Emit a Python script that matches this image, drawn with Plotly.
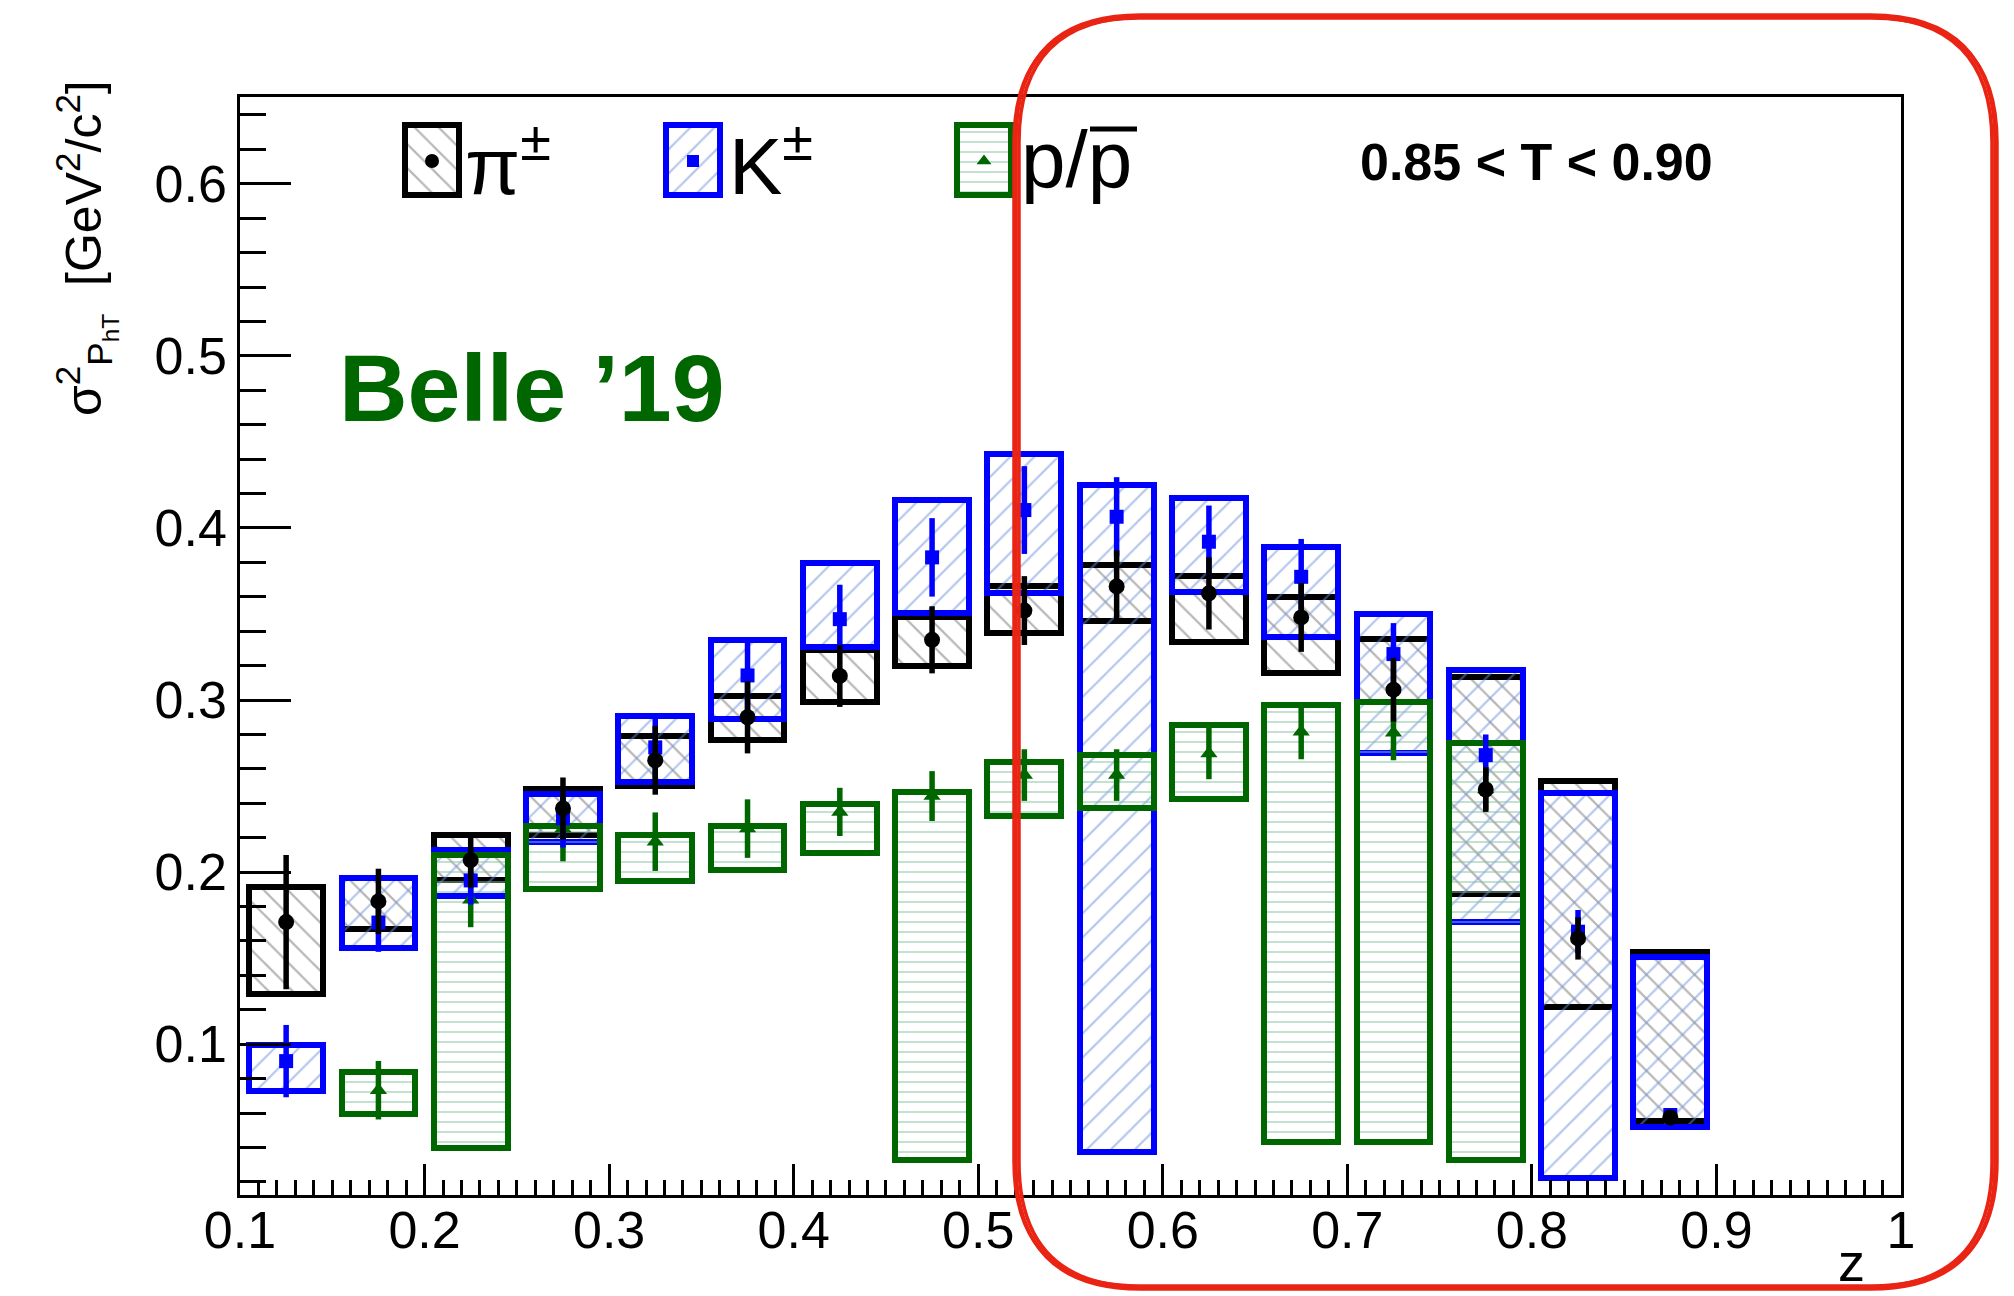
import plotly.graph_objects as go

# ---------------------------------------------------------------------------
# sigma^2 of P_hT versus z, Belle 2019, thrust bin 0.85 < T < 0.90
# ---------------------------------------------------------------------------
z_bins = [0.125, 0.175, 0.225, 0.275, 0.325, 0.375, 0.425, 0.475,
          0.525, 0.575, 0.625, 0.675, 0.725, 0.775, 0.825, 0.875]

# pions
pi_val = [0.171, 0.183, 0.207, 0.237, 0.265, 0.290, 0.314, 0.335,
          0.352, 0.366, 0.362, 0.348, 0.306, 0.248, 0.1615, 0.0575]
pi_stat = [0.039, 0.019, 0.016, 0.018, 0.020, 0.021, 0.018, 0.0195,
           0.020, 0.021, 0.021, 0.020, 0.0185, 0.013, 0.0123, 0.004]
pi_sys_lo = [0.129, 0.167, 0.1952, 0.2213, 0.250, 0.2769, 0.299, 0.320,
             0.3391, 0.3459, 0.3339, 0.3159, 0.2987, 0.1873, 0.1218, 0.0554]
pi_sys_hi = [0.1916, 0.1968, 0.2213, 0.2484, 0.2791, 0.3026, 0.329, 0.3484,
             0.3662, 0.3784, 0.372, 0.360, 0.3354, 0.3135, 0.253, 0.1537]

# kaons
k_val = [0.0902, 0.1707, 0.1952, 0.2313, 0.2725, 0.3143, 0.347, 0.3829,
         0.4104, 0.4065, 0.392, 0.3716, 0.3267, 0.268, 0.1654, 0.0589]
k_stat = [0.021, 0.017, 0.014, 0.017, 0.019, 0.022, 0.020, 0.0228,
          0.0255, 0.023, 0.021, 0.022, 0.018, 0.012, 0.0126, 0.0033]
k_sys_lo = [0.0727, 0.156, 0.1861, 0.2177, 0.2525, 0.2892, 0.331, 0.3504,
            0.3624, 0.0375, 0.3626, 0.3368, 0.269, 0.1712, 0.022, 0.0517]
k_sys_hi = [0.0994, 0.1968, 0.2127, 0.2454, 0.2906, 0.335, 0.3798, 0.4162,
            0.4429, 0.4249, 0.4176, 0.3887, 0.350, 0.3174, 0.2458, 0.1509]

# protons / antiprotons (no measurement in the first and last two bins)
p_val = [None, 0.0733, 0.184, 0.2253, 0.2177, 0.2253, 0.235, 0.2442,
         0.2564, 0.2564, 0.269, 0.2816, 0.281, 0.248, None, None]
p_stat = [None, 0.017, 0.016, 0.019, 0.017, 0.017, 0.014, 0.0145,
          0.015, 0.015, 0.015, 0.016, 0.016, 0.012, None, None]
p_sys_lo = [None, 0.0596, 0.040, 0.1902, 0.1946, 0.2012, 0.2113, 0.033,
            0.2328, 0.2371, 0.2425, 0.0433, 0.0433, 0.0327, None, None]
p_sys_hi = [None, 0.0841, 0.2102, 0.2267, 0.2213, 0.2267, 0.2394, 0.2464,
            0.2641, 0.268, 0.2855, 0.2971, 0.2987, 0.2752, None, None]

x_tick_vals = [0.1, 0.2, 0.3, 0.4, 0.5, 0.6, 0.7, 0.8, 0.9, 1.0]
x_tick_text = ["0.1", "0.2", "0.3", "0.4", "0.5", "0.6", "0.7", "0.8", "0.9", "1"]
y_tick_vals = [0.1, 0.2, 0.3, 0.4, 0.5, 0.6]
y_tick_text = ["0.1", "0.2", "0.3", "0.4", "0.5", "0.6"]

# ---------------------------------------------------------------------------
W, H = 2014, 1296
ML, MR, MT, MB = 240, 113, 97, 101
FONT = "Liberation Sans, Arial, Helvetica, sans-serif"

BLACK = "#000000"
BLUE = "#0000ff"
GREEN = "#006600"
RED = "#ea2414"

species = [
    dict(name="pi", val=pi_val, stat=pi_stat, lo=pi_sys_lo, hi=pi_sys_hi,
         line=BLACK, hatch="#6e6e6e", shape="\\", size=17, solid=0.13,
         symbol="circle", msize=16),
    dict(name="K", val=k_val, stat=k_stat, lo=k_sys_lo, hi=k_sys_hi,
         line=BLUE, hatch="#6c8fdc", shape="/", size=17, solid=0.13,
         symbol="square", msize=14),
    dict(name="p", val=p_val, stat=p_stat, lo=p_sys_lo, hi=p_sys_hi,
         line=GREEN, hatch="#86c49f", shape="-", size=10, solid=0.2,
         symbol="triangle-up", msize=15),
]


def px(x):
    return (x - ML) / (W - ML - MR)


def py(y):
    return (H - MB - y) / (H - MT - MB)


def box_marker(s):
    return dict(color="rgba(0,0,0,0)",
                line=dict(color=s["line"], width=6),
                pattern=dict(shape=s["shape"], fgcolor=s["hatch"],
                             bgcolor="rgba(0,0,0,0)", size=s["size"],
                             solidity=s["solid"], fillmode="overlay"))


fig = go.Figure()

# systematic boxes
for s in species:
    heights = [None if lo is None else hi - lo for lo, hi in zip(s["lo"], s["hi"])]
    fig.add_trace(go.Bar(x=z_bins, y=heights, base=s["lo"], width=0.04,
                         marker=box_marker(s), showlegend=False,
                         hoverinfo="skip"))

# points with statistical errors
for s in reversed(species):
    fig.add_trace(go.Scatter(
        x=z_bins, y=s["val"], mode="markers", showlegend=False,
        marker=dict(symbol=s["symbol"], size=s["msize"], color=s["line"],
                    line=dict(width=0)),
        error_y=dict(type="data", array=s["stat"], thickness=5.5, width=0,
                     color=s["line"])))

# legend drawn in figure pixel coordinates on an overlaid pair of axes
leg_cx = [432, 693, 984]
leg_labels = ["π<sup>±</sup>", "K<sup>±</sup>", "p/p"]
leg_text_x = [463, 727, 1019]
for s, cx in zip(species, leg_cx):
    fig.add_trace(go.Bar(x=[cx], y=[70], base=[125], width=54,
                         marker=box_marker(s), showlegend=False,
                         hoverinfo="skip", xaxis="x2", yaxis="y2"))
for s, cx in zip(species, leg_cx):
    fig.add_trace(go.Scatter(x=[cx], y=[161], mode="markers", showlegend=False,
                             marker=dict(symbol=s["symbol"], size=s["msize"] - 2,
                                         color=s["line"]),
                             xaxis="x2", yaxis="y2", hoverinfo="skip"))

annotations = []
for lab, tx in zip(leg_labels, leg_text_x):
    annotations.append(dict(x=px(tx), y=py(160), xref="paper", yref="paper",
                            text=lab, showarrow=False, xanchor="left",
                            yanchor="middle",
                            font=dict(family=FONT, size=80, color="black")))

annotations += [
    dict(x=px(1536), y=py(162), xref="paper", yref="paper",
         text="<b>0.85 &lt; T &lt; 0.90</b>", showarrow=False,
         xanchor="center", yanchor="middle",
         font=dict(family=FONT, size=52, color="black")),
    dict(x=px(337), y=py(388), xref="paper", yref="paper",
         text="<b>Belle ’19</b>", showarrow=False,
         xanchor="left", yanchor="middle",
         font=dict(family=FONT, size=95, color=GREEN)),
    dict(x=px(1851), y=py(1262), xref="paper", yref="paper",
         text="z", showarrow=False, xanchor="center", yanchor="middle",
         font=dict(family=FONT, size=54, color="black")),
    dict(x=px(86), y=py(248), xref="paper", yref="paper",
         text="σ<sup>2</sup><sub>P<sub>hT</sub></sub>  [GeV<sup>2</sup>/c<sup>2</sup>]",
         showarrow=False, textangle=-90, xanchor="center", yanchor="middle",
         font=dict(family=FONT, size=50, color="black")),
]

# hand-drawn style rounded frame
def rounded_path(x0, y0, x1, y1, r):
    rx0, rx1 = px(x0), px(x1)
    ry0, ry1 = py(y0), py(y1)
    return (f"M {px(x0 + r)} {ry0} L {px(x1 - r)} {ry0} "
            f"Q {rx1} {ry0} {rx1} {py(y0 + r)} L {rx1} {py(y1 - r)} "
            f"Q {rx1} {ry1} {px(x1 - r)} {ry1} L {px(x0 + r)} {ry1} "
            f"Q {rx0} {ry1} {rx0} {py(y1 - r)} L {rx0} {py(y0 + r)} "
            f"Q {rx0} {ry0} {px(x0 + r)} {ry0} Z")


shapes = []
for dx, dy in [(0, 0), (3, 2), (-2, 3)]:
    shapes.append(dict(type="path", xref="paper", yref="paper",
                       path=rounded_path(1016 + dx, 15 + dy, 1995 - dx, 1289 - dy, 125),
                       line=dict(color=RED, width=3.5), layer="above"))
# bar over the second p of the proton label
shapes.append(dict(type="line", xref="paper", yref="paper",
                   x0=px(1090), x1=px(1137), y0=py(129), y1=py(129),
                   line=dict(color="black", width=5)))

axis_common = dict(showgrid=False, zeroline=False, showline=True,
                   linecolor="black", linewidth=2.5, mirror=True,
                   ticks="inside", tickcolor="black", tickwidth=2.5,
                   tickfont=dict(family=FONT, size=52, color="black"))

fig.update_layout(
    width=W, height=H,
    margin=dict(l=ML, r=MR, t=MT, b=MB, pad=0),
    paper_bgcolor="white", plot_bgcolor="white",
    barmode="overlay", bargap=0,
    showlegend=False,
    xaxis=dict(range=[0.1, 1.0], tickvals=x_tick_vals, ticktext=x_tick_text,
               ticklen=31, ticklabelstandoff=-12,
               minor=dict(dtick=0.01, tick0=0.0, ticklen=15, tickwidth=2.5,
                          tickcolor="black", ticks="inside"),
               **axis_common),
    yaxis=dict(range=[0.0124, 0.6504], tickvals=y_tick_vals, ticktext=y_tick_text,
               ticklen=51,
               minor=dict(dtick=0.02, tick0=0.0, ticklen=26, tickwidth=2.5,
                          tickcolor="black", ticks="inside"),
               **axis_common),
    xaxis2=dict(overlaying="x", range=[ML, W - MR], visible=False,
                fixedrange=True),
    yaxis2=dict(overlaying="y", range=[H - MB, MT], visible=False,
                fixedrange=True),
    annotations=annotations,
    shapes=shapes,
)

fig.write_html("out.html")
